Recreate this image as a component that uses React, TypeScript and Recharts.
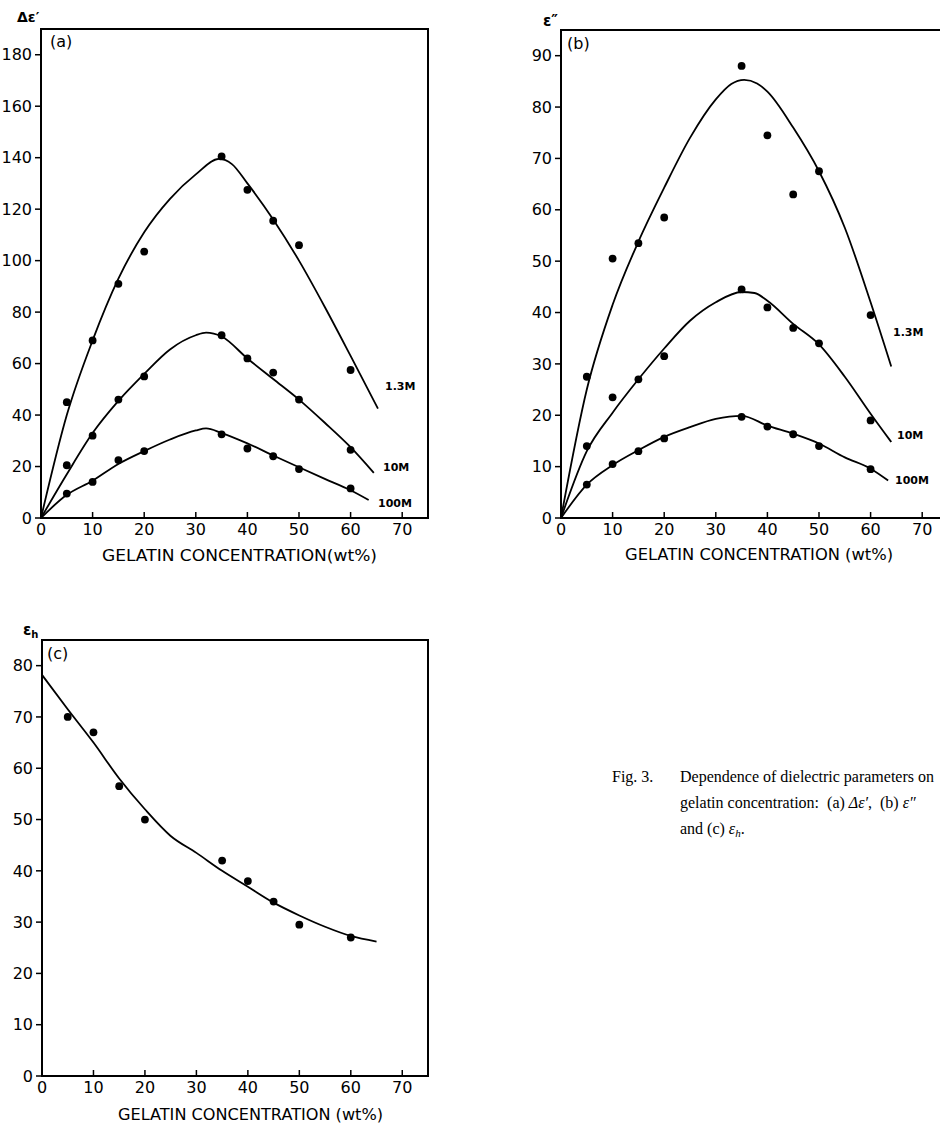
import React from "react";
import { ComposedChart, Line, Scatter, XAxis, YAxis, ReferenceArea } from "recharts";

const FONT = "'DejaVu Sans', 'Liberation Sans', sans-serif";
const SERIF = "'Liberation Serif', 'DejaVu Serif', serif";

// measured concentrations (wt%)
const concentration = [5, 10, 15, 20, 35, 40, 45, 50, 60];
const xTicks = [0, 10, 20, 30, 40, 50, 60, 70];

// (a) Δε'
const dEps13M = [45, 69, 91, 103.5, 140.5, 127.5, 115.5, 106, 57.5];
const dEps10M = [20.5, 32, 46, 55, 71, 62, 56.5, 46, 26.5];
const dEps100M = [9.5, 14, 22.5, 26, 32.5, 27, 24, 19, 11.5];
const aTicks = [0, 20, 40, 60, 80, 100, 120, 140, 160, 180];

// (a) drawn curves
const fitA13MX = [0, 5, 10, 15, 20, 25, 30, 34.5, 37, 40, 45, 50, 55, 60, 65.3];
const fitA13MY = [0, 40, 69, 93, 111, 124, 133.5, 139.5, 137.5, 130, 116, 100, 82, 63, 42.5];
const fitA10MX = [0, 5, 10, 15, 20, 25, 30, 32, 35, 40, 45, 50, 55, 60, 64.5];
const fitA10MY = [0, 17, 33, 45.5, 56, 65.5, 71, 72, 70.5, 62, 54, 46, 37, 27.5, 17.5];
const fitA100MX = [0, 5, 10, 15, 20, 25, 30, 32, 35, 40, 45, 50, 55, 60, 63.5];
const fitA100MY = [0, 9, 14.5, 21, 26, 30.5, 34, 34.8, 33, 29, 24.3, 19.7, 15.2, 10.8, 7];

// (b) ε''
const eLoss13M = [27.5, 50.5, 53.5, 58.5, 88, 74.5, 63, 67.5, 39.5];
const eLoss10M = [14, 23.5, 27, 31.5, 44.5, 41, 37, 34, 19];
const eLoss100M = [6.5, 10.5, 13, 15.5, 19.7, 17.8, 16.3, 14, 9.5];
const bTicks = [0, 10, 20, 30, 40, 50, 60, 70, 80, 90];

// (b) drawn curves
const fitB13MX = [0, 5, 10, 15, 20, 25, 30, 33, 35.5, 38, 40, 45, 50, 55, 60, 64];
const fitB13MY = [0, 25, 41.5, 53.8, 64.3, 74, 81.5, 84.5, 85.3, 84.6, 83, 76, 67.5, 56.5, 42, 29.5];
const fitB10MX = [0, 5, 10, 15, 20, 25, 30, 35, 37.5, 40, 45, 50, 55, 60, 64];
const fitB10MY = [0, 13, 20.5, 27, 33, 38.4, 42, 44, 43.8, 42.3, 37.8, 33.8, 27.5, 20.3, 14.8];
const fitB100MX = [0, 5, 10, 15, 20, 25, 30, 35, 40, 45, 50, 55, 60, 63.4];
const fitB100MY = [0, 6.5, 10.3, 13.2, 15.8, 17.7, 19.3, 19.9, 18, 16.4, 14.5, 11.8, 9.6, 7.3];

// (c) εh
const epsH = [70, 67, 56.5, 50, 42, 38, 34, 29.5, 27];
const cTicks = [0, 10, 20, 30, 40, 50, 60, 70, 80];
const fitCX = [0, 5, 10, 15, 20, 25, 30, 35, 40, 45, 50, 55, 60, 65];
const fitCY = [78.2, 71.5, 65, 58, 52, 46.8, 43.5, 40, 36.9, 33.8, 31.3, 29.1, 27.3, 26.2];

const toPoints = (xs: number[], ys: number[]) => xs.map((x, i) => ({ x, y: ys[i] }));

const Dot = (p: any) => <circle cx={p.cx} cy={p.cy} r={3.9} fill="#000" />;

const TICK_GAP = 4;
const XTick = (p: any) => (
  <g>
    <line x1={p.x} x2={p.x} y1={p.y - TICK_GAP} y2={p.y - TICK_GAP - 6} stroke="#000" strokeWidth={1.5} />
    <text x={p.x} y={p.y + 13} textAnchor="middle" fontSize={16} fontFamily={FONT} fill="#000">
      {p.payload.value}
    </text>
  </g>
);

interface PanelProps {
  left: number;
  top: number;
  height: number;
  margin: { top: number; right: number; bottom: number; left: number };
  yWidth: number;
  yMax: number;
  yTicks: number[];
  points: number[][];
  curves: [number[], number[]][];
}

function Panel({ left, top, height, margin, yWidth, yMax, yTicks, points, curves }: PanelProps) {
  return (
    <div style={{ position: "absolute", left, top }}>
      <ComposedChart width={460} height={height} margin={margin}>
        <XAxis
          type="number"
          dataKey="x"
          domain={[0, 75]}
          ticks={xTicks}
          interval={0}
          allowDataOverflow
          axisLine={false}
          tickLine={false}
          tickSize={0}
          tickMargin={TICK_GAP}
          tick={<XTick />}
          height={30}
        />
        <YAxis
          type="number"
          dataKey="y"
          domain={[0, yMax]}
          ticks={yTicks}
          interval={0}
          allowDataOverflow
          axisLine={false}
          tickLine={{ stroke: "#000", strokeWidth: 1.5 }}
          tickSize={6}
          tickMargin={3}
          tick={{ fill: "#000", fontSize: 16, fontFamily: FONT }}
          width={yWidth}
        />
        <ReferenceArea x1={0} x2={75} y1={0} y2={yMax} fill="none" fillOpacity={0} stroke="#000" strokeWidth={2} />
        {curves.map(([xs, ys], i) => (
          <Line
            key={`c${i}`}
            data={toPoints(xs, ys)}
            dataKey="y"
            type="monotone"
            stroke="#000"
            strokeWidth={1.8}
            dot={false}
            activeDot={false}
            isAnimationActive={false}
          />
        ))}
        {points.map((ys, i) => (
          <Scatter key={`p${i}`} data={toPoints(concentration, ys)} dataKey="y" shape={Dot} isAnimationActive={false} />
        ))}
      </ComposedChart>
    </div>
  );
}

const txt = { fontFamily: FONT, fill: "#000" };
const pre = { whiteSpace: "pre" as const };

export default function App() {
  return (
    <div style={{ position: "absolute", left: 0, top: 0, width: 940, height: 1124, overflow: "hidden", background: "#fff" }}>
      <Panel
        left={0}
        top={0}
        height={580}
        margin={{ top: 29, right: 32, bottom: 32, left: 0 }}
        yWidth={41}
        yMax={190}
        yTicks={aTicks}
        points={[dEps13M, dEps10M, dEps100M]}
        curves={[
          [fitA13MX, fitA13MY],
          [fitA10MX, fitA10MY],
          [fitA100MX, fitA100MY]
        ]}
      />
      <Panel
        left={520}
        top={0}
        height={580}
        margin={{ top: 30, right: 32, bottom: 32, left: 0 }}
        yWidth={41}
        yMax={95}
        yTicks={bTicks}
        points={[eLoss13M, eLoss10M, eLoss100M]}
        curves={[
          [fitB13MX, fitB13MY],
          [fitB10MX, fitB10MY],
          [fitB100MX, fitB100MY]
        ]}
      />
      <Panel
        left={0}
        top={600}
        height={524}
        margin={{ top: 40, right: 32, bottom: 18, left: 0 }}
        yWidth={42}
        yMax={85}
        yTicks={cTicks}
        points={[epsH]}
        curves={[[fitCX, fitCY]]}
      />
      <svg width={940} height={1124} style={{ position: "absolute", left: 0, top: 0, pointerEvents: "none" }}>
        {/* axis symbols and panel letters */}
        <text x={17} y={22} fontSize={14} fontWeight="bold" {...txt}>Δε′</text>
        <text x={50} y={47} fontSize={16} {...txt}>(a)</text>
        <text x={543} y={26} fontSize={15} fontWeight="bold" {...txt}>ε″</text>
        <text x={567} y={49} fontSize={16} {...txt}>(b)</text>
        <text x={23} y={635} fontSize={15} fontWeight="bold" {...txt}>
          ε<tspan fontSize={10} dy={3}>h</tspan>
        </text>
        <text x={47} y={659} fontSize={16} {...txt}>(c)</text>

        {/* series labels */}
        <text x={385} y={390} fontSize={11} fontWeight="bold" {...txt}>1.3M</text>
        <text x={383} y={471} fontSize={11} fontWeight="bold" {...txt}>10M</text>
        <text x={378} y={507} fontSize={11} fontWeight="bold" {...txt}>100M</text>
        <text x={893} y={336} fontSize={11} fontWeight="bold" {...txt}>1.3M</text>
        <text x={897} y={439} fontSize={11} fontWeight="bold" {...txt}>10M</text>
        <text x={895} y={484} fontSize={11} fontWeight="bold" {...txt}>100M</text>

        {/* x-axis titles */}
        <text x={102} y={561} fontSize={16} textLength={275} lengthAdjust="spacingAndGlyphs" {...txt}>
          GELATIN CONCENTRATION(wt%)
        </text>
        <text x={625} y={560} fontSize={16} textLength={268} lengthAdjust="spacingAndGlyphs" {...txt}>
          GELATIN CONCENTRATION (wt%)
        </text>
        <text x={118} y={1120} fontSize={16} textLength={265} lengthAdjust="spacingAndGlyphs" {...txt}>
          GELATIN CONCENTRATION (wt%)
        </text>

        {/* caption */}
        <g fontFamily={SERIF} fontSize={16} fill="#000">
          <text x={612} y={782}>Fig. 3.</text>
          <text x={680} y={782} textLength={254} lengthAdjust="spacing">
            Dependence of dielectric parameters on
          </text>
          <text x={680} y={808} style={pre}>
            {"gelatin concentration:  (a) "}
            <tspan fontStyle="italic">Δε′</tspan>
            {",  (b) "}
            <tspan fontStyle="italic">ε″</tspan>
          </text>
          <text x={680} y={834}>
            and (c) <tspan fontStyle="italic">ε</tspan>
            <tspan fontStyle="italic" fontSize={11} dy={3}>h</tspan>
            <tspan dy={-3}>.</tspan>
          </text>
        </g>
      </svg>
    </div>
  );
}
